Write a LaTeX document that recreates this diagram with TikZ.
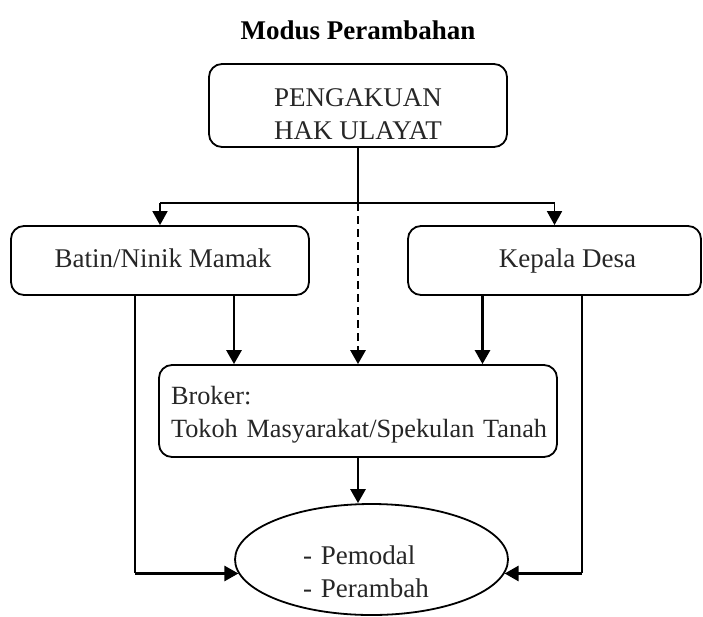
\documentclass[tikz,border=0pt]{standalone}
\usepackage{fontspec}
\setmainfont{Liberation Serif}
\usetikzlibrary{arrows.meta, positioning, shapes.geometric, calc}

\begin{document}
\begin{tikzpicture}[
      x=1pt, y=-1pt,
      every node/.style={font=\fontsize{27}{33}\selectfont, text=black!85},
      box/.style={draw, line width=1.8pt, rounded corners=13pt, inner sep=0pt},
      tip/.style={-{Triangle[width=15pt,length=14pt]}},
      flow/.style={line width=2.8pt, tip},
      link/.style={line width=1.8pt}
    ]
      \useasboundingbox (0,0) rectangle (703,616);

      \node[font=\fontsize{27}{33}\selectfont\bfseries, text=black] (title) at (358,30) {Modus Perambahan};
      \node[box, minimum width=298pt, minimum height=83pt, align=center,
        text height=75pt, text depth=8pt] (hak) at (358,105.5) {PENGAKUAN\\HAK ULAYAT};
      \node[box, minimum width=298pt, minimum height=69pt, text height=19pt, text depth=6pt]
        (batin) at (160,260.5) {\hspace*{6pt}Batin/Ninik Mamak};
      \node[box, minimum width=293pt, minimum height=69pt, text height=19pt, text depth=6pt]
        (kades) at (554.5,260.5) {\hspace*{26pt}Kepala Desa};
      \node[box, minimum width=398pt, minimum height=92pt, text width=374pt, align=left,
        font=\fontsize{26.3}{33}\selectfont, text height=39pt, text depth=53pt] (broker) at (358,411)
        {Broker:\\\mbox{Tokoh Masyarakat/Spekulan Tanah}};
      \node[ellipse, draw, line width=1.8pt, minimum width=273pt, minimum height=111pt, inner sep=0pt,
        text width=137pt, align=left, text height=39pt, text depth=30pt] (pelaku) at (371.5,559.5)
        {- Pemodal\\- Perambah};

      % cabang dari pengakuan
      \coordinate (split) at (hak.south |- 0,203);
      \draw[link] (hak.south) -- (split);
      \draw[link] (batin.north |- split) -- (kades.north |- split);
      \draw[link, tip] (batin.north |- split) -- (batin.north);
      \draw[link, tip] (kades.north |- split) -- (kades.north);
      \draw[flow, dash pattern=on 8pt off 5pt] (split) -- (broker.north);

      % ke broker
      \draw[flow] ([xshift=74pt]batin.south) -- ([xshift=74pt]batin.south |- broker.north);
      \draw[flow] ([xshift=-72pt]kades.south) -- ([xshift=-72pt]kades.south |- broker.north);
      \draw[flow] (broker.south) -- (broker.south |- pelaku.north);

      % langsung ke pemodal/perambah
      \coordinate (lc) at ([xshift=-25pt]batin.south |- pelaku.186);
      \coordinate (rc) at ([xshift=27.5pt]kades.south |- pelaku.354);
      \draw[link] ([xshift=-25pt]batin.south) -- (lc);
      \draw[flow] (lc) -- (pelaku.186);
      \draw[link] ([xshift=27.5pt]kades.south) -- (rc);
      \draw[flow] (rc) -- (pelaku.354);
    \end{tikzpicture}
\end{document}
